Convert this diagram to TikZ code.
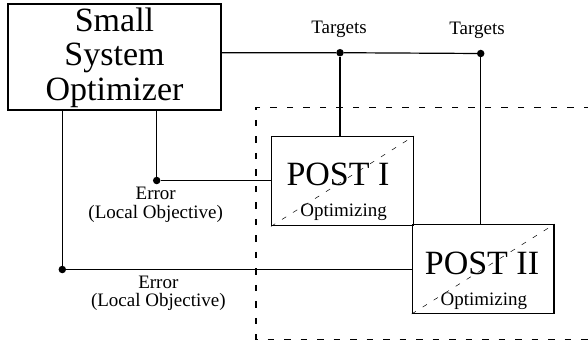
\documentclass[tikz,border=0pt]{standalone}
\usepackage{fontspec}
\setmainfont{Liberation Serif}
\newfontfamily\labelserif{Liberation Serif}
\begin{document}
\begin{tikzpicture}[x=1pt,y=-1pt,
  blockbox/.style={draw, line width=1.4pt, inner sep=0pt},
  wire/.style={line width=1.2pt},
  diag/.style={line width=0.5pt, dash pattern=on 5pt off 8pt},
  region/.style={line width=1.1pt, dash pattern=on 6.5pt off 10pt},
  junction/.style={circle, fill=black, inner sep=0pt, minimum size=7.5pt},
  bigtext/.style={font=\labelserif\fontsize{34}{34.5}\selectfont, inner sep=0pt},
  smalltext/.style={font=\labelserif\fontsize{19}{18.5}\selectfont, inner sep=0pt},
  twoline/.style={smalltext, align=center}]
\useasboundingbox (0,0) rectangle (588,345);

% dashed region holding the two POST blocks (open on the right)
\draw[region] (590,107.3) -- (256,107.3) -- (256,339.3) -- (590,339.3);

% system optimizer
\node[blockbox, minimum width=213pt, minimum height=106pt] (sso) at (114.5,57) {};
\node[bigtext, anchor=base] (sso1) at (114.5,32) {Small};
\node[bigtext, anchor=base] (sso2) at (114.5,66) {System};
\node[bigtext, anchor=base] (sso3) at (114.5,100) {Optimizer};

% POST blocks
\node[blockbox, minimum width=141.6pt, minimum height=89pt] (p1) at (342.5,181.2) {};
\node[blockbox, minimum width=141.7pt, minimum height=88.6pt] (p2) at (483.2,269) {};
\draw[diag] (p1.south west) -- (p1.north east);
\draw[diag] (p2.south west) -- (p2.north east);
\node[bigtext, anchor=base] (p1t) at (338,185) {POST I};
\node[smalltext, anchor=base] (p1s) at (343.6,216) {Optimizing};
\node[bigtext, anchor=base] (p2t) at (482,274) {POST II};
\node[smalltext, anchor=base] (p2s) at (483.8,305.5) {Optimizing};

% target distribution
\node[junction] (t1) at (340,52.7) {};
\node[junction] (t2) at (480.7,53.5) {};
\node[smalltext, anchor=base] (t1l) at (339,34) {Targets};
\node[smalltext, anchor=base] (t2l) at (477,34.5) {Targets};
\draw[wire] (sso.east |- t1) -- (t1) -- (t2);
\draw[wire] (t1) -- (t1 |- p1.north);
\draw[wire] (t2) -- (t2 |- p2.north);

% error feedback paths
\node[junction] (e1) at (156.7,180.5) {};
\node[junction] (e2) at (62.3,269.5) {};
\draw[wire] (e1 |- sso.south) -- (e1) -- (e1 -| p1.west);
\draw[wire] (e2 |- sso.south) -- (e2) -- (e2 -| p2.west);
\node[twoline, anchor=north] (e1l) at (155.7,187) {Error\\(Local Objective)};
\node[twoline, anchor=north] (e2l) at (158.3,275.5) {Error\\(Local Objective)};
\end{tikzpicture}
\end{document}
